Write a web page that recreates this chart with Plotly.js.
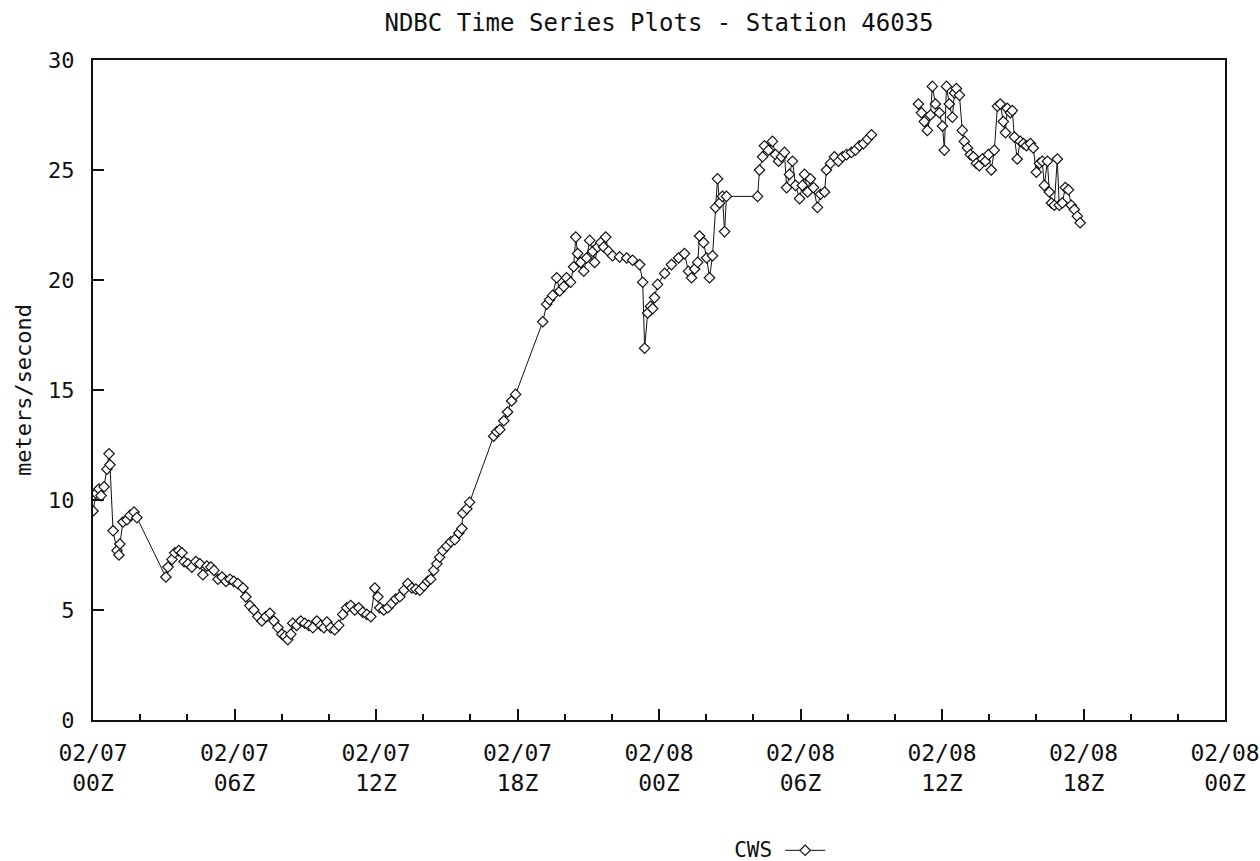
<!DOCTYPE html>
<html>
<head>
<meta charset="utf-8">
<script src="https://cdn.plot.ly/plotly-3.0.1.min.js"></script>
<style>html,body{margin:0;padding:0;background:#fff;}#chart{width:1260px;height:861px;}</style>
</head>
<body>
<div id="chart"></div>
<script>
// Hours since 02/07 00Z
const hours = [0.00,0.13,0.25,0.34,0.47,0.59,0.68,0.72,0.85,1.02,1.10,1.14,1.27,1.44,1.57,1.74,1.86,
3.09,3.18,3.35,3.47,3.64,3.77,3.86,4.03,4.19,4.36,4.53,4.66,4.83,5.00,5.13,5.30,5.47,5.64,5.81,5.97,
6.14,6.36,6.48,6.65,6.82,6.99,7.16,7.33,7.50,7.67,7.84,8.01,8.14,8.26,8.39,8.47,8.64,8.81,8.98,9.15,
9.32,9.49,9.66,9.79,9.92,10.08,10.25,10.42,10.59,10.76,10.93,11.10,11.27,11.44,11.61,11.78,11.95,
12.08,12.16,12.33,12.50,12.67,12.84,13.01,13.18,13.35,13.52,13.69,13.86,14.03,14.19,14.32,14.45,
14.58,14.70,14.83,15.00,15.17,15.34,15.51,15.64,15.68,15.85,15.97,16.99,17.12,17.25,17.42,17.58,
17.75,17.92,19.07,19.24,19.36,19.49,19.66,19.79,19.96,20.08,20.25,20.38,20.47,20.55,20.68,20.81,
20.93,21.06,21.19,21.27,21.40,21.53,21.65,21.74,21.86,22.03,22.33,22.63,22.88,23.18,23.31,23.39,
23.52,23.64,23.73,23.81,23.94,24.24,24.53,24.83,25.08,25.25,25.38,25.51,25.64,25.72,25.89,26.02,
26.14,26.27,26.40,26.48,26.57,26.69,26.78,26.86,28.18,28.26,28.39,28.47,28.64,28.81,28.94,29.07,
29.19,29.32,29.41,29.53,29.66,29.79,29.96,30.08,30.17,30.30,30.42,30.55,30.72,30.85,31.02,31.10,
31.27,31.44,31.61,31.78,31.95,32.16,32.33,32.50,32.67,32.84,33.01,34.00,
35.00,35.13,35.25,35.38,35.51,35.59,35.72,35.89,36.02,36.10,36.19,36.31,36.44,36.53,36.61,36.74,
36.86,36.95,37.08,37.20,37.33,37.46,37.58,37.71,37.84,37.97,38.09,38.22,38.35,38.47,38.60,38.69,
38.77,38.90,38.98,39.07,39.19,39.32,39.45,39.58,39.75,39.87,40.00,40.13,40.25,40.34,40.47,40.55,
40.64,40.76,40.89,40.97,41.10,41.23,41.36,41.48,41.61,41.74,41.86];

// CWS, meters/second (null = missing data)
const cws = [9.5,10.3,10.5,10.2,10.6,11.4,12.1,11.6,8.6,7.7,7.5,8.0,9.0,9.1,9.3,9.45,9.2,
6.5,6.95,7.3,7.6,7.7,7.6,7.2,7.1,6.95,7.2,7.1,6.6,7.0,6.95,6.8,6.4,6.5,6.3,6.4,6.3,
6.2,6.0,5.6,5.2,5.0,4.7,4.5,4.7,4.85,4.5,4.2,3.9,3.8,3.65,3.9,4.4,4.3,4.5,4.4,4.3,
4.2,4.5,4.3,4.2,4.45,4.2,4.1,4.3,4.8,5.1,5.2,5.0,5.1,4.9,4.8,4.7,6.0,
5.6,5.1,5.0,5.1,5.3,5.5,5.6,5.9,6.2,6.0,5.95,5.9,6.1,6.3,6.4,6.8,
7.1,7.4,7.7,7.9,8.1,8.2,8.5,8.7,9.4,9.6,9.9,12.9,13.1,13.2,13.6,14.0,
14.5,14.8,18.1,18.9,19.1,19.3,20.1,19.5,19.7,20.1,19.9,20.6,21.95,21.2,20.8,20.4,
21.0,21.8,21.3,20.8,21.5,21.7,21.5,21.95,21.3,21.1,21.05,21.0,20.9,20.7,19.9,16.9,
18.5,18.8,18.7,19.2,19.8,20.3,20.7,21.0,21.2,20.4,20.1,20.5,20.8,22.0,21.7,21.0,
20.1,21.1,23.3,24.6,23.5,23.8,22.2,23.8,23.8,25.0,25.6,26.1,25.9,26.3,25.7,25.4,
25.6,25.8,24.2,24.8,25.4,24.3,23.7,24.3,24.8,24.0,24.6,24.2,23.3,23.9,24.0,25.0,
25.3,25.6,25.4,25.6,25.7,25.8,25.9,26.1,26.2,26.4,26.6,null,
28.0,27.6,27.2,26.8,27.5,28.8,28.0,27.6,27.0,25.9,28.8,28.0,27.4,28.5,28.7,28.4,
26.8,26.3,26.0,25.7,25.6,25.3,25.2,25.5,25.4,25.7,25.0,25.9,27.9,28.0,27.2,26.7,
27.8,27.6,27.7,26.5,25.5,26.3,26.2,26.1,26.2,26.0,24.9,25.3,25.4,24.3,25.4,24.0,
23.5,23.4,25.5,23.4,23.5,24.2,24.1,23.4,23.2,22.9,22.6];

const tickHours = [0, 6, 12, 18, 24, 30, 36, 42, 48];
const tickLabels = ['02/07<br>00Z','02/07<br>06Z','02/07<br>12Z','02/07<br>18Z',
  '02/08<br>00Z','02/08<br>06Z','02/08<br>12Z','02/08<br>18Z','02/08<br>00Z'];
const yTicks = [0, 5, 10, 15, 20, 25, 30];

const FONT = '"DejaVu Sans Mono", "Liberation Mono", monospace';

const trace = {
  x: hours, y: cws, type: 'scatter', mode: 'lines+markers', name: '',
  connectgaps: false,
  line: {color: '#111', width: 1},
  marker: {symbol: 'diamond', size: 8, color: '#fff', line: {color: '#111', width: 1.2}}
};

const layout = {
  width: 1260, height: 861,
  paper_bgcolor: '#fff', plot_bgcolor: '#fff',
  margin: {l: 93, r: 35, t: 60, b: 141, autoexpand: false},
  font: {family: FONT, color: '#111', size: 22},
  title: {text: 'NDBC Time Series Plots - Station 46035', xref: 'paper', x: 0.5, xanchor: 'center',
          yref: 'container', y: 0.974, yanchor: 'middle',
          font: {family: FONT, size: 24, color: '#111'}},
  showlegend: true,
  legend: {orientation: 'h', xref: 'container', x: 0.622, xanchor: 'center',
           yref: 'container', y: 0.012, yanchor: 'middle',
           title: {text: 'CWS', side: 'left', font: {family: FONT, size: 21}},
           font: {family: FONT, size: 21}, itemwidth: 40, bgcolor: 'rgba(0,0,0,0)'},
  xaxis: {
    range: [0, 48], tickmode: 'array', tickvals: tickHours, ticktext: tickLabels,
    showgrid: false, zeroline: false, showline: true, linecolor: '#111', linewidth: 2, mirror: true,
    ticks: 'inside', ticklen: 11, tickwidth: 2, tickcolor: '#111', ticklabelstandoff: 11,
    ticklabeloverflow: 'allow',
    minor: {dtick: 2, tick0: 0, ticks: 'inside', ticklen: 6, tickwidth: 2, tickcolor: '#111', showgrid: false},
    tickfont: {family: FONT, size: 23, color: '#111'}
  },
  yaxis: {
    range: [0, 30], tickmode: 'array', tickvals: yTicks,
    showgrid: false, zeroline: false, showline: true, linecolor: '#111', linewidth: 2, mirror: true,
    ticks: 'inside', ticklen: 11, tickwidth: 2, tickcolor: '#111', ticklabelstandoff: 12,
    tickfont: {family: FONT, size: 22, color: '#111'},
    title: {text: 'meters/second', font: {family: FONT, size: 22, color: '#111'}, standoff: 10}
  }
};

Plotly.newPlot('chart', [trace], layout, {displayModeBar: false, staticPlot: true});
</script>
</body>
</html>
